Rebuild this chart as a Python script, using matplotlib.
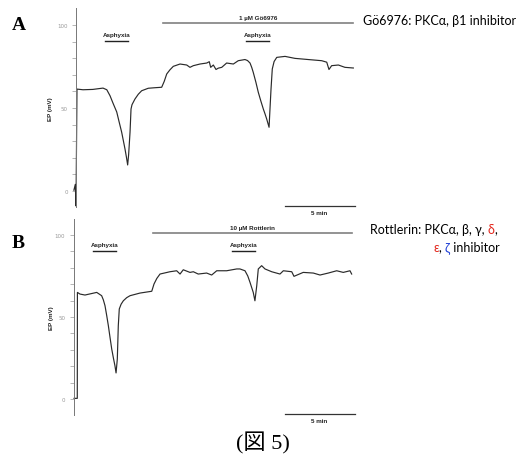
"""Recreate the two EP (mV) traces (Gö6976 / Rottlerin, Fig. 5)."""

import matplotlib
matplotlib.use("Agg")
import matplotlib.pyplot as plt
import matplotlib.transforms as mtransforms

# ---- data (time in min, EP in mV) ----
time_a = [-0.15, -0.05, 0.0, 0.07, 0.5, 1.2, 1.93, 2.2, 2.43, 2.64, 2.91, 3.07,
          3.26, 3.39, 3.5, 3.61, 3.69, 3.76, 3.86, 3.93, 4.0, 4.21, 4.45, 4.69,
          5.16, 5.6, 6.12, 6.3, 6.48, 6.71, 6.95, 7.43, 7.91, 8.14, 8.38, 8.86,
          9.34, 9.52, 9.62, 9.81, 10.0, 10.16, 10.41, 10.76, 11.24, 11.59,
          12.07, 12.25, 12.43, 12.55, 12.66, 12.85, 13.02, 13.2, 13.38, 13.5,
          13.62, 13.79, 13.86, 13.93, 14.02, 14.15, 14.34, 14.93, 15.64, 16.59,
          17.55, 17.91, 18.07, 18.26, 18.74, 19.21, 19.81]
ep_a = [0.5, 4, -9, 61.4, 61, 61.2, 62, 61, 57.4, 53, 47.6, 42,
        35.5, 30, 25.3, 20, 15.7, 22, 35.5, 49.4, 52, 55.4, 58.3, 60.4,
        61.9, 62.2, 62.5, 66, 70.5, 73, 75.1, 76.5, 75.9, 74.5, 75.5, 76.5,
        77.1, 77.9, 74.5, 75.9, 73.2, 74, 74.5, 77.1, 76.5, 78.5,
        79.2, 78.6, 77.1, 74.5, 71.5, 65.5, 59.5, 54.3, 49.4, 46.5,
        43.4, 38.4, 50, 61.4, 73.5, 78, 80.5, 81.1, 79.9, 79.2,
        78.5, 77.6, 73.2, 75.5, 75.9, 74.5, 74.1]

time_b = [0.04, 0.27, 0.28, 0.46, 0.82, 1.66, 2.01, 2.13, 2.25, 2.37, 2.49,
          2.61, 2.73, 2.85, 2.96, 3.04, 3.13, 3.2, 3.27, 3.4, 3.56, 3.8, 4.04,
          4.75, 5.59, 5.75, 5.95, 6.18, 6.89, 7.37, 7.61, 7.84, 8.32, 8.56,
          8.91, 9.51, 9.87, 10.23, 10.94, 11.66, 11.89, 12.25, 12.45, 12.61,
          12.84, 12.96, 13.09, 13.2, 13.44, 13.68, 14.16, 14.75, 14.99, 15.59,
          15.75, 16.41, 17.13, 17.61, 18.2, 18.8, 19.27, 19.75, 19.87]
ep_b = [0.4, 0.4, 65, 64, 63.4, 65, 63, 60.5, 56.9, 51, 44.7,
        37.5, 30.5, 25, 20.3, 15.9, 24.4, 44.7, 54.9, 57.8, 59.9, 61.8, 63,
        64.6, 65.7, 70.1, 73.5, 76.2, 77.6, 78.2, 76.2, 78.8, 77.2, 77.6,
        76.2, 76.8, 75.6, 78.2, 78.2, 79.3, 79.3, 78.2, 75, 71.1,
        65, 59.9, 69.1, 79.3, 81.3, 79.3, 77.6, 76.2, 78.2, 77.6,
        74.8, 77.2, 76.8, 75.6, 76.8, 78.2, 77.2, 78.2, 76.2]

# drug application (start, end) and asphyxia periods, in min
drug_a = (6.21, 19.79)
drug_b = (5.68, 19.9)
asphyxia_a = [(2.07, 3.71), (12.14, 13.79)]
asphyxia_b = [(1.41, 3.04), (11.34, 12.96)]
drug_label_a = "1 \u00b5M G\u00f66976"
drug_label_b = "10 \u00b5M Rottlerin"

note_a = "G\u00f66976: PKC\u03b1, \u03b21 inhibitor"
note_b_line1 = [("Rottlerin: PKC\u03b1, \u03b2, \u03b3, ", "black"), ("\u03b4", "#e3261c"),
                (",", "black")]
note_b_line2 = [("\u03b5", "#e3261c"), (", ", "black"), ("\u03b6", "#1f3fd6"),
                (" inhibitor", "black")]
caption = "(\u56f3 5)"

BAR_Y = 101
ASPH_Y = 90.3
YTICKS = list(range(0, 101, 10))
YLABELS = [str(t) if t in (0, 50, 100) else "" for t in YTICKS]

W, H = 527, 456
fig = plt.figure(figsize=(W / 100, H / 100), dpi=100)

TRACE = "#2a2a2a"
SMALL = dict(fontsize=4.5, fontweight="bold", family="Liberation Sans", color="#222222")
NOTE = dict(fontsize=9, family=["Lato", "DejaVu Sans"])


def panel(rect, t, ep, xmax, drug, drug_label, asph, letter, letter_xy, ylab_x):
    ax = fig.add_axes(rect)
    ax.set_xlim(0, xmax)
    ax.set_ylim(-9.5, 110)
    for s in ["top", "right", "bottom"]:
        ax.spines[s].set_visible(False)
    ax.spines["left"].set_color("#777777")
    ax.spines["left"].set_linewidth(0.7)
    ax.set_xticks([])
    ax.set_yticks(YTICKS)
    ax.set_yticklabels(YLABELS)
    ax.tick_params(axis="y", length=3, width=0.5, color="#999999", pad=3,
                   labelsize=4, labelcolor="#999999")
    ax.patch.set_alpha(0)

    ax.plot(t, ep, color=TRACE, lw=0.85, clip_on=False)

    # drug bar
    ax.plot(drug, [BAR_Y, BAR_Y], color="#808080", lw=1.2, clip_on=False)
    ax.text(sum(drug) / 2, BAR_Y + 2.0, drug_label, ha="center", va="bottom", **SMALL)
    # asphyxia bars
    for a in asph:
        ax.plot(a, [ASPH_Y, ASPH_Y], color="#222222", lw=1.0, clip_on=False)
        ax.text(sum(a) / 2, ASPH_Y + 2.2, "Asphyxia", ha="center", va="bottom", **SMALL)
    # 5 min scale bar
    sb = (xmax - 5.1, xmax - 0.1)
    ax.plot(sb, [-9.3, -9.3], color="#333333", lw=0.9, clip_on=False)
    ax.text(sum(sb) / 2, -11.5, "5 min", ha="center", va="top", **SMALL)

    trans = mtransforms.blended_transform_factory(ax.transAxes, ax.transData)
    ax.text(ylab_x, 50, "EP (mV)", rotation=90, ha="center", va="center",
            transform=trans, **SMALL)

    fig.text(letter_xy[0] / W, 1 - letter_xy[1] / H, letter, fontsize=14,
             fontweight="bold", family="Liberation Serif", ha="left", va="center")
    return ax


def colored_line(x_px, y_px, parts):
    """Text pieces in different colours, chained left to right."""
    prev = fig.text(x_px / W, 1 - y_px / H, parts[0][0], color=parts[0][1],
                    ha="left", va="baseline", **NOTE)
    for s, c in parts[1:]:
        prev = plt.annotate(s, xy=(1, 0), xycoords=prev, va="bottom", ha="left",
                            color=c, **NOTE)
    return prev


panel([76 / W, (H - 207.8) / H, 280 / W, 198.4 / H], time_a, ep_a, 20.0,
      drug_a, drug_label_a, asphyxia_a, "A", (12, 25), -0.092)
panel([73.5 / W, (H - 415.6) / H, 282.5 / W, 196 / H], time_b, ep_b, 20.18,
      drug_b, drug_label_b, asphyxia_b, "B", (12, 244), -0.077)

# right-hand notes
fig.text(363 / W, 1 - 21 / H, note_a, ha="left", va="center", **NOTE)
colored_line(370, 234, note_b_line1)
colored_line(433, 252, note_b_line2)

# caption
fig.text(263 / W, 1 - 443 / H, caption, ha="center", va="center", fontsize=16,
         family=["Liberation Serif", "Noto Sans CJK JP"])

fig.savefig("out.png", dpi=100)
